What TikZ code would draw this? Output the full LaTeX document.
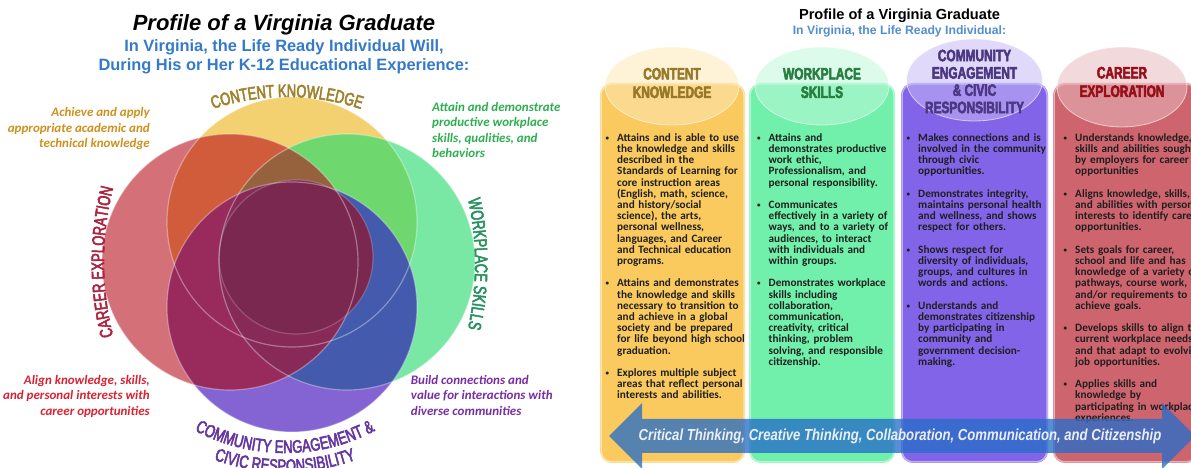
\documentclass[tikz,border=0pt]{standalone}
\usepackage{fontspec}
\setmainfont{Liberation Sans}
\newfontfamily\calfont{Carlito}
\newfontfamily\narrowfont[FakeStretch=0.72,FakeBold=3]{Liberation Sans}
\newfontfamily\hdfont[FakeStretch=0.72,FakeBold=3]{Liberation Sans Bold}
\newfontfamily\arrfont[FakeStretch=0.82]{Liberation Sans}
\usetikzlibrary{decorations.text,calc}
% venn region colours
\definecolor{cY}{RGB}{243,208,112}
\definecolor{cR}{RGB}{212,112,120}
\definecolor{cG}{RGB}{122,232,165}
\definecolor{cP}{RGB}{132,100,210}
\definecolor{cYR}{RGB}{208,92,60}
\definecolor{cYG}{RGB}{110,215,110}
\definecolor{cYRG}{RGB}{150,98,62}
\definecolor{cPR}{RGB}{152,42,92}
\definecolor{cPG}{RGB}{68,90,172}
\definecolor{cPRG}{RGB}{135,42,88}
\definecolor{cAll}{RGB}{122,40,80}
% label colours
\definecolor{lblY}{RGB}{160,130,45}
\definecolor{lblR}{RGB}{170,35,65}
\definecolor{lblG}{RGB}{40,145,95}
\definecolor{lblP}{RGB}{100,55,160}
\definecolor{anY}{RGB}{205,145,30}
\definecolor{anG}{RGB}{45,175,80}
\definecolor{anR}{RGB}{215,35,50}
\definecolor{anP}{RGB}{120,45,165}
\definecolor{subblue}{RGB}{52,122,200}
% columns
\definecolor{colY}{RGB}{250,202,95}
\definecolor{colG}{RGB}{112,240,170}
\definecolor{colP}{RGB}{130,100,232}
\definecolor{colR}{RGB}{205,100,110}
\definecolor{hdY}{RGB}{150,120,40}
\definecolor{hdG}{RGB}{40,125,65}
\definecolor{hdP}{RGB}{75,55,130}
\definecolor{hdR}{RGB}{150,15,25}
\definecolor{arrblue}{RGB}{40,110,200}
\definecolor{arrtext}{RGB}{235,238,245}
\newcommand\lblfont{\narrowfont\fontsize{18pt}{18pt}\selectfont}
\newlength\bhang
\setlength\bhang{11.5pt}
\newcommand\bitem[1]{\par\parskip=0pt\relax\noindent\hangindent=\bhang\hangafter=1\makebox[\bhang][l]{\raisebox{1.3pt}{\fontsize{7pt}{7pt}\selectfont\textbullet}}#1\par}
\newcommand\bsep{\vspace{11.2pt}}
\begin{document}
\begin{tikzpicture}[x=1pt,y=1pt,
  annot/.style={font=\calfont\bfseries\itshape\fontsize{13pt}{15.5pt}\selectfont, inner sep=0pt},
  hd/.style={font=\hdfont\fontsize{16.5pt}{18.5pt}\selectfont, align=center, inner sep=0pt},
  body/.style={font=\calfont\bfseries\fontsize{11.2pt}{11.2pt}\selectfont, text width=200pt, inner sep=0pt, anchor=north west, text=black!88},
  colbox/.style={rounded corners=12pt},
  colrim/.style={draw=white, draw opacity=0.5, line width=1.5pt, rounded corners=11pt},
  rim/.style={draw=white, draw opacity=0.35, line width=1.2pt},
  headell/.style={fill opacity=0.55, draw=white, draw opacity=0.6, line width=0.8pt},
]
\useasboundingbox (0,0) rectangle (1191,468);

% ---------------- left panel ----------------
\node[font=\bfseries\itshape\fontsize{22pt}{24pt}\selectfont, anchor=base] (ltitle) at (284,437) {Profile of a Virginia Graduate};
\node[font=\bfseries\fontsize{16.4pt}{19pt}\selectfont, text=subblue, anchor=base] (lsubA) at (284,416) {In Virginia, the Life Ready Individual Will,};
\node[font=\bfseries\fontsize{16.4pt}{19pt}\selectfont, text=subblue, anchor=base] (lsubB) at (284,397) {During His or Her K-12 Educational Experience:};

\coordinate (Yc) at (292,246);
\coordinate (Rc) at (230,206);
\coordinate (Gc) at (347,206);
\coordinate (Pc) at (292,161);
\coordinate (Mc) at (296,211);

\fill[cY] (Yc) circle[radius=125pt];
\fill[cR] (Rc) circle[radius=128pt];
\fill[cG] (Gc) circle[radius=128pt];
\fill[cP] (Pc) circle[radius=125pt];
\begin{scope}
  \clip (Yc) circle[radius=125pt];
  \fill[cYR] (Rc) circle[radius=128pt];
  \fill[cYG] (Gc) circle[radius=128pt];
  \clip (Rc) circle[radius=128pt];
  \fill[cYRG] (Gc) circle[radius=128pt];
\end{scope}
\begin{scope}
  \clip (Pc) circle[radius=125pt];
  \fill[cPR] (Rc) circle[radius=128pt];
  \fill[cPG] (Gc) circle[radius=128pt];
  \clip (Rc) circle[radius=128pt];
  \fill[cPRG] (Gc) circle[radius=128pt];
\end{scope}
\fill[cAll] (Mc) circle[radius=77pt];
\path[rim] (Yc) circle[radius=125pt];
\path[rim] (Rc) circle[radius=128pt];
\path[rim] (Gc) circle[radius=128pt];
\path[rim] (Pc) circle[radius=125pt];
\path[rim, draw opacity=0.2] (Mc) circle[radius=77pt];

% curved labels
\path[decorate, decoration={text along path, text align=center,
  text={|\lblfont\color{lblY}|CONTENT KNOWLEDGE}}]
  ($(287,137)+(115:234pt)$) arc[start angle=115, end angle=65, radius=234pt];
\path[decorate, decoration={text along path, text align=center,
  text={|\lblfont\color{lblR}|CAREER EXPLORATION}}]
  ($(404,206)+(200:300pt)$) arc[start angle=200, end angle=160, radius=300pt];
\path[decorate, decoration={text along path, text align=center,
  text={|\lblfont\color{lblG}|WORKPLACE SKILLS}}]
  ($(175,204)+(20:300pt)$) arc[start angle=20, end angle=-20, radius=300pt];
\path[decorate, decoration={text along path, text align=center,
  text={|\lblfont\color{lblP}|COMMUNITY ENGAGEMENT {\&}}}]
  ($(285,208)+(238:193pt)$) arc[start angle=238, end angle=302, radius=193pt];
\path[decorate, decoration={text along path, text align=center,
  text={|\lblfont\color{lblP}|CIVIC RESPONSIBILITY}}]
  ($(285,208)+(240:212pt)$) arc[start angle=240, end angle=300, radius=212pt];

% annotations
\node[annot, text=anY, align=right, anchor=north east] (achieve) at (150,360.5) {Achieve and apply\\appropriate academic and\\technical knowledge};
\node[annot, text=anG, align=left, anchor=north west] (attain) at (432,366) {Attain and demonstrate\\productive workplace\\skills, qualities, and\\behaviors};
\node[annot, text=anR, align=right, anchor=north east] (align) at (150,93) {Align knowledge, skills,\\and personal interests with\\career opportunities};
\node[annot, text=anP, align=left, anchor=north west] (build) at (410.7,93) {Build connections and\\value for interactions with\\diverse communities};

% ---------------- right panel ----------------
\node[font=\bfseries\fontsize{14.6pt}{17pt}\selectfont, anchor=base] (rtitle) at (899.5,448) {Profile of a Virginia Graduate};
\node[font=\bfseries\fontsize{12.2pt}{14pt}\selectfont, text=subblue!85!white, anchor=base] (rsub) at (899.5,433) {In Virginia, the Life Ready Individual:};

\fill[colY, colbox] (600,5) rectangle (745,385);
\fill[colG, colbox] (749,5) rectangle (895,385);
\fill[colP, colbox] (901,5) rectangle (1048,385);
\fill[colR, colbox] (1053,5) rectangle (1198,385);
\path[colrim] (601,6) rectangle (744,384);
\path[colrim] (750,6) rectangle (894,384);
\path[colrim] (902,6) rectangle (1047,384);
\path[colrim] (1054,6) rectangle (1197,384);

\path[headell, fill=colY!45!white] (672,382) ellipse[x radius=67pt, y radius=39pt];
\path[headell, fill=colG!45!white] (822,382) ellipse[x radius=67pt, y radius=39pt];
\path[headell, fill=colP!45!white] (974.5,388) ellipse[x radius=68pt, y radius=41pt];
\path[headell, fill=colR!45!white] (1122,381) ellipse[x radius=65pt, y radius=40pt];

\node[hd, text=hdY] (hY) at (672,385) {CONTENT\\KNOWLEDGE};
\node[hd, text=hdG] (hG) at (822,385) {WORKPLACE\\SKILLS};
\node[hd, text=hdP, font=\hdfont\fontsize{16.5pt}{17.3pt}\selectfont] (hP) at (974.5,386.5) {COMMUNITY\\ENGAGEMENT\\\& CIVIC\\RESPONSIBILITY};
\node[hd, text=hdR] (hR) at (1122,386) {CAREER\\EXPLORATION};

\node[body] (tY) at (605.5,338) {%
\bitem{Attains and is able to use\newline the knowledge and skills\newline described in the\newline Standards of Learning for\newline core instruction areas\newline (English, math, science,\newline and history/social\newline science), the arts,\newline personal wellness,\newline languages, and Career\newline and Technical education\newline programs.}
\bsep
\bitem{Attains and demonstrates\newline the knowledge and skills\newline necessary to transition to\newline and achieve in a global\newline society and be prepared\newline for life beyond high school\newline graduation.}
\bsep
\bitem{Explores multiple subject\newline areas that reflect personal\newline interests and abilities.}};

\node[body] (tG) at (757,338) {%
\bitem{Attains and\newline demonstrates productive\newline work ethic,\newline Professionalism, and\newline personal responsibility.}
\bsep
\bitem{Communicates\newline effectively in a variety of\newline ways, and to a variety of\newline audiences, to interact\newline with individuals and\newline within groups.}
\bsep
\bitem{Demonstrates workplace\newline skills including\newline collaboration,\newline communication,\newline creativity, critical\newline thinking, problem\newline solving, and responsible\newline citizenship.}};

\node[body] (tP) at (906.5,338) {%
\bitem{Makes connections and is\newline involved in the community\newline through civic\newline opportunities.}
\bsep
\bitem{Demonstrates integrity,\newline maintains personal health\newline and wellness, and shows\newline respect for others.}
\bsep
\bitem{Shows respect for\newline diversity of individuals,\newline groups, and cultures in\newline words and actions.}
\bsep
\bitem{Understands and\newline demonstrates citizenship\newline by participating in\newline community and\newline government decision-\newline making.}};

\node[body] (tR) at (1063.5,338) {%
\bitem{Understands knowledge,\newline skills and abilities sought\newline by employers for career\newline opportunities}
\bsep
\bitem{Aligns knowledge, skills,\newline and abilities with personal\newline interests to identify career\newline opportunities.}
\bsep
\bitem{Sets goals for career,\newline school and life and has\newline knowledge of a variety of\newline pathways, course work,\newline and/or requirements to\newline achieve goals.}
\bsep
\bitem{Develops skills to align to\newline current workplace needs,\newline and that adapt to evolving\newline job opportunities.}
\bsep
\bitem{Applies skills and\newline knowledge by\newline participating in workplace\newline experiences.}};

% double arrow
\fill[arrblue, fill opacity=0.78] (609,32) -- (642,65) -- (642,49) -- (1162,49) -- (1162,65) -- (1195,32) -- (1162,-1) -- (1162,15) -- (642,15) -- (642,-1) -- cycle;
\node[font=\arrfont\bfseries\itshape\fontsize{16pt}{16pt}\selectfont, text=arrtext] (skills) at (900,32) {Critical Thinking, Creative Thinking, Collaboration, Communication, and Citizenship};
\end{tikzpicture}
\end{document}
